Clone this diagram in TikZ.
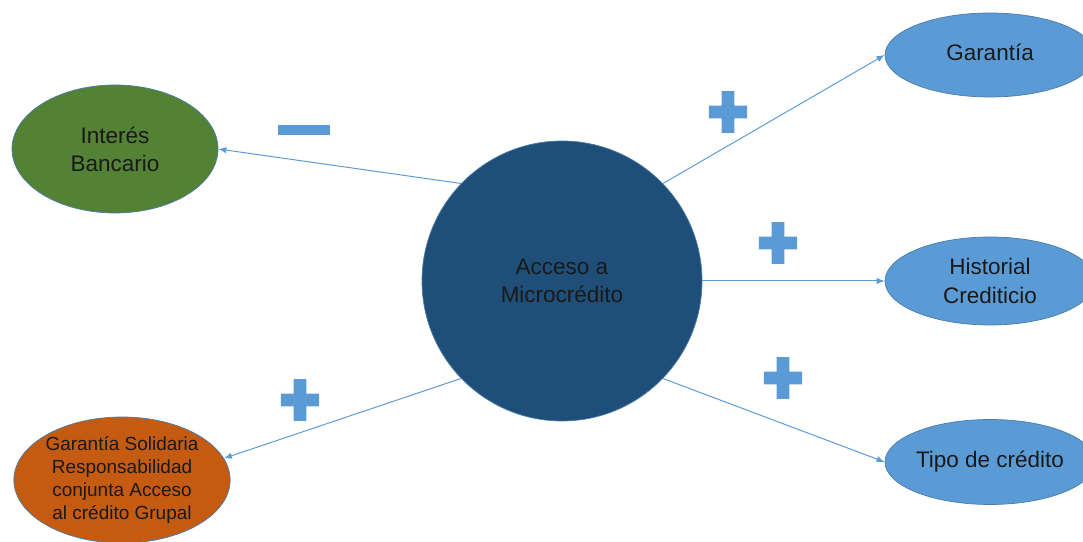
\documentclass[tikz,border=0pt]{standalone}
\usepackage{fontspec}
\setmainfont{Liberation Sans}
\usetikzlibrary{shapes.geometric,arrows.meta}
\definecolor{darkblue}{RGB}{31,78,121}
\definecolor{lightblue}{RGB}{91,155,213}
\definecolor{leafgreen}{RGB}{84,130,53}
\definecolor{rust}{RGB}{197,90,17}
\definecolor{inktext}{RGB}{25,25,25}
\tikzset{
  bubble/.style={ellipse, draw=lightblue!80!black, line width=0.5pt, inner sep=0pt,
    text=inktext, align=center, font=\fontsize{16}{20}\selectfont},
  link/.style={draw=lightblue, line width=0.7pt, -{Latex[length=2mm,width=1.6mm]}}
}
\begin{document}
\begin{tikzpicture}
\useasboundingbox (0,0) rectangle (27.075,13.55);
\node[bubble, circle, fill=darkblue, minimum size=7cm] (acc) at (14.05,6.525) {Acceso a\\Microcrédito};
\node[bubble, fill=leafgreen, minimum width=5.15cm, minimum height=3.2cm] (int) at (2.875,9.825) {Interés\\Bancario};
\node[bubble, fill=lightblue, minimum width=5.25cm, minimum height=2.1cm] (gar) at (24.75,12.175) {\raisebox{4pt}{Garantía}};
\node[bubble, fill=lightblue, minimum width=5.25cm, minimum height=2.2cm] (his) at (24.75,6.525) {Historial\\Crediticio};
\node[bubble, fill=lightblue, minimum width=5.25cm, minimum height=2.125cm] (tip) at (24.75,2.0) {Tipo de crédito};
\node[bubble, fill=rust, minimum width=5.1cm, minimum height=3.15cm,
  font=\fontsize{13.5}{16.3}\selectfont] (sol) at (3.05,1.55) {Garantía Solidaria\\Responsabilidad\\conjunta Acceso\\al crédito Grupal};
\draw[link] (acc.136) -- (int.east);
\draw[link] (acc.44) -- (gar.west);
\draw[link] (acc.east) -- (his.west);
\draw[link] (acc.-44) -- (tip.west);
\draw[link] (acc.-136) -- (sol.12);
% signos
\fill[lightblue] (6.95,10.175) rectangle (8.25,10.425);
\foreach \px/\py in {18.2/10.75, 19.45/7.475, 19.575/4.1, 7.5/3.55}
  \fill[lightblue] (\px-0.48,\py-0.16) rectangle (\px+0.48,\py+0.16)
                   (\px-0.16,\py-0.52) rectangle (\px+0.16,\py+0.52);
\end{tikzpicture}
\end{document}
